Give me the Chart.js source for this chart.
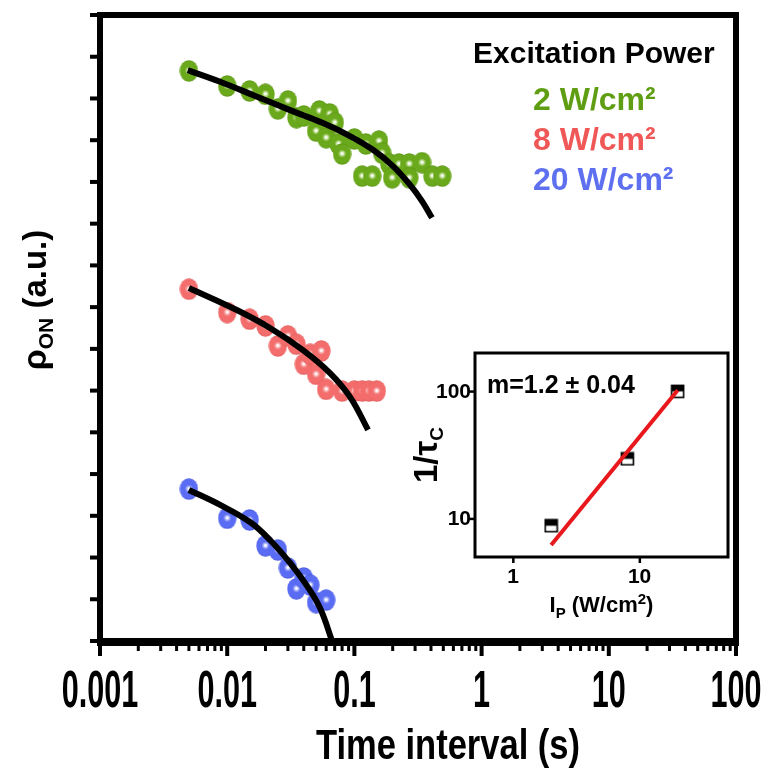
<!DOCTYPE html>
<html>
<head>
<meta charset="utf-8">
<title>rho_ON vs time interval</title>
<script src="https://cdn.jsdelivr.net/npm/chart.js@4.4.1/dist/chart.umd.min.js"></script>
<style>
    html, body { margin: 0; padding: 0; background: #fff; }
    #wrap { position: relative; width: 768px; height: 769px; }
    #mainChart { position: absolute; left: 0; top: 0; width: 768px; height: 769px; }
    #insetChart { position: absolute; left: 390px; top: 340px; width: 350px; height: 290px; }
</style>
</head>
<body>
<div id="wrap">
    <canvas id="mainChart" width="768" height="769"></canvas>
    <canvas id="insetChart" width="350" height="290"></canvas>
</div>
<script>
// Données : temps (s) et rho_ON (u.a.)
const greenTime = [0.005, 0.010, 0.015, 0.020, 0.025, 0.030, 0.035, 0.040, 0.050, 0.053, 0.060, 0.064, 0.070, 0.075, 0.080, 0.100, 0.115, 0.123, 0.138, 0.156, 0.165, 0.188, 0.198, 0.224, 0.27, 0.27, 0.34, 0.41, 0.49];
const greenRho = [13.66, 13.30, 13.18, 13.10, 12.75, 12.94, 12.54, 12.58, 12.22, 12.70, 12.06, 12.63, 12.42, 11.91, 11.67, 12.03, 11.14, 11.91, 11.14, 11.98, 11.69, 11.43, 11.10, 11.43, 11.43, 11.10, 11.46, 11.14, 11.14];

const redTime = [0.005, 0.010, 0.015, 0.020, 0.025, 0.030, 0.035, 0.040, 0.045, 0.050, 0.055, 0.060, 0.080, 0.100, 0.115, 0.130, 0.150];
const redRho = [8.43, 7.87, 7.71, 7.55, 7.07, 7.31, 7.11, 6.63, 6.87, 6.39, 6.95, 6.03, 5.99, 5.99, 5.99, 5.99, 5.99];

const blueTime = [0.005, 0.010, 0.015, 0.020, 0.025, 0.030, 0.035, 0.040, 0.045, 0.050, 0.060];
const blueRho = [3.64, 2.94, 2.90, 2.28, 2.18, 1.75, 1.25, 1.51, 1.34, 0.92, 0.98];

const greenFitTime = [0.0049, 0.0088, 0.0166, 0.0312, 0.0566, 0.0923, 0.140, 0.201, 0.274, 0.340, 0.4075];
const greenFitRho = [13.68, 13.40, 13.06, 12.72, 12.41, 12.10, 11.77, 11.38, 10.93, 10.54, 10.14];
const redFitTime = [0.005, 0.0119, 0.0217, 0.0394, 0.0643, 0.0923, 0.128];
const redFitRho = [8.46, 7.93, 7.50, 6.97, 6.42, 5.85, 5.06];
const blueFitTime = [0.005, 0.0088, 0.0151, 0.0217, 0.0312, 0.0424, 0.0537, 0.0667, 0.069];
const blueFitRho = [3.62, 3.26, 2.85, 2.42, 1.87, 1.32, 0.79, 0.0, -0.15];

// Encart : 1/tau_c en fonction de la puissance
const insetPower = [2, 8, 20];
const insetRate = [8.8, 29.5, 100];
const insetFitPower = [2, 20];
const insetFitRate = [6.2, 102];

// Graduations
const xTickValues = [0.001, 0.01, 0.1, 1, 10, 100];
const xTickLabels = ['0.001', '0.01', '0.1', '1', '10', '100'];
const yTickValues = [0, 1, 2, 3, 4, 5, 6, 7, 8, 9, 10, 11, 12, 13, 14, 15];
const insetXTicks = [1, 10];
const insetXLabels = ['1', '10'];
const insetYTicks = [10, 100];
const insetYLabels = ['10', '100'];

const powerLabels = ['2 W/cm²', '8 W/cm²', '20 W/cm²'];
const powerColors = ['#5f9e12', '#f05858', '#5e6ff0'];

const FONT = '"Liberation Sans", Arial, sans-serif';
const NARROW = '"Liberation Sans Narrow", "Liberation Sans", Arial, sans-serif';

function toPoints(xs, ys) {
    return xs.map((v, i) => ({ x: v, y: ys[i] }));
}

// Bille avec reflet pour les marqueurs
function makeBall(base, light, dark) {
    const c = document.createElement('canvas');
    c.width = 19;
    c.height = 22;
    const g = c.getContext('2d');
    const grad = g.createRadialGradient(9.5, 10.5, 0.1, 9.5, 11, 10.5);
    grad.addColorStop(0, '#ffffff');
    grad.addColorStop(0.07, '#ffffff');
    grad.addColorStop(0.2, light);
    grad.addColorStop(0.38, base);
    grad.addColorStop(0.85, base);
    grad.addColorStop(1, dark);
    g.fillStyle = grad;
    g.beginPath();
    g.ellipse(9.5, 11, 9.2, 10.8, 0, 0, Math.PI * 2);
    g.fill();
    return c;
}

// Carré à moitié rempli pour l'encart
function makeHalfSquare() {
    const c = document.createElement('canvas');
    c.width = 15;
    c.height = 15;
    const g = c.getContext('2d');
    g.fillStyle = '#fff';
    g.fillRect(1, 1, 13, 13);
    g.fillStyle = '#000';
    g.fillRect(1, 1, 13, 6.5);
    g.strokeStyle = '#000';
    g.lineWidth = 1.6;
    g.strokeRect(1.5, 1.5, 12, 12);
    return c;
}

// Texte avec indices / exposants
function richWidth(ctx, parts) {
    let w = 0;
    parts.forEach(p => {
        ctx.font = `bold ${p.s}px ${FONT}`;
        w += ctx.measureText(p.t).width;
    });
    return w;
}

function drawRich(ctx, parts, x, y, align) {
    let cx = x;
    const w = richWidth(ctx, parts);
    if (align === 'center') cx = x - w / 2;
    if (align === 'right') cx = x - w;
    ctx.textAlign = 'left';
    ctx.textBaseline = 'alphabetic';
    parts.forEach(p => {
        ctx.font = `bold ${p.s}px ${FONT}`;
        ctx.fillText(p.t, cx, y + (p.dy || 0));
        cx += ctx.measureText(p.t).width;
    });
}

// Police condensée pour les valeurs de l'axe x
function drawCondensed(ctx, text, x, y, size, digitWidth) {
    ctx.save();
    ctx.font = `bold ${size}px ${NARROW}`;
    const sx = digitWidth / ctx.measureText('0').width;
    ctx.translate(x, y);
    ctx.scale(sx, 1);
    ctx.textAlign = 'center';
    ctx.textBaseline = 'alphabetic';
    ctx.fillText(text, 0, 0);
    ctx.restore();
}

// Cadre, graduations et textes du graphique principal
const mainDecor = {
    id: 'mainDecor',
    afterDraw(chart) {
        const { ctx, chartArea: a, scales: { x, y } } = chart;
        ctx.save();
        ctx.fillStyle = '#000';
        ctx.strokeStyle = '#000';

        // graduations y (vers l'extérieur)
        yTickValues.forEach(v => {
            const py = y.getPixelForValue(v);
            ctx.fillRect(a.left - 10, py - 2, 8, 4);
        });

        // graduations x majeures et mineures
        xTickValues.forEach((d, i) => {
            const px = x.getPixelForValue(d);
            ctx.fillRect(px - 2, a.bottom, 4, 15);
            if (i < xTickValues.length - 1) {
                for (let m = 2; m <= 9; m++) {
                    const pm = x.getPixelForValue(d * m);
                    ctx.fillRect(pm - 1.5, a.bottom, 3, 10);
                }
            }
        });

        // cadre épais
        ctx.lineWidth = 6;
        ctx.strokeRect(a.left, a.top, a.right - a.left, a.bottom - a.top);
        ctx.fillRect(a.left - 3, a.bottom - 3, a.right - a.left + 6, 8);

        // valeurs de l'axe x
        xTickValues.forEach((d, i) => {
            drawCondensed(ctx, xTickLabels[i], x.getPixelForValue(d), 707, 52, 17);
        });

        // titre de l'axe x
        drawCondensed(ctx, 'Time interval (s)', 448, 759, 42, 19.2);

        // titre de l'axe y
        ctx.save();
        ctx.translate(46, 300);
        ctx.rotate(-Math.PI / 2);
        drawRich(ctx, [{ t: 'ρ', s: 34 }, { t: 'ON', s: 21, dy: 7 }, { t: ' (a.u.)', s: 33 }], 0, 0, 'center');
        ctx.restore();

        // légende
        ctx.textAlign = 'left';
        ctx.textBaseline = 'alphabetic';
        ctx.font = `bold 30px ${FONT}`;
        ctx.fillStyle = '#000';
        ctx.fillText('Excitation Power', 473, 63);
        ctx.font = `bold 32px ${FONT}`;
        powerLabels.forEach((lbl, i) => {
            ctx.fillStyle = powerColors[i];
            ctx.fillText(lbl, 533, 110 + i * 40);
        });
        ctx.restore();
    }
};

const greenBall = makeBall('#6aa91c', '#b8db8a', '#5c9614');
const redBall = makeBall('#f46d6d', '#f9b0b0', '#e45e5e');
const blueBall = makeBall('#5a6cf3', '#a9b3fa', '#4c5de2');

const fitStyle = {
    showLine: true,
    borderColor: '#000',
    borderWidth: 6,
    pointRadius: 0,
    tension: 0.4,
    fill: false,
    order: 0
};

const mainCtx = document.getElementById('mainChart').getContext('2d');
const mainChart = new Chart(mainCtx, {
    type: 'scatter',
    data: {
        datasets: [
            Object.assign({ data: toPoints(greenFitTime, greenFitRho) }, fitStyle),
            Object.assign({ data: toPoints(redFitTime, redFitRho) }, fitStyle),
            Object.assign({ data: toPoints(blueFitTime, blueFitRho) }, fitStyle),
            { data: toPoints(greenTime, greenRho), pointStyle: greenBall, order: 1 },
            { data: toPoints(redTime, redRho), pointStyle: redBall, order: 1 },
            { data: toPoints(blueTime, blueRho), pointStyle: blueBall, order: 1 }
        ]
    },
    options: {
        responsive: false,
        animation: false,
        layout: { padding: { top: 15, right: 32, left: 0, bottom: 0 } },
        plugins: {
            legend: { display: false },
            tooltip: { enabled: false }
        },
        scales: {
            x: {
                type: 'logarithmic',
                min: 0.001,
                max: 100,
                grid: { display: false },
                border: { display: false },
                ticks: { display: false },
                afterFit: s => { s.height = 128; }
            },
            y: {
                min: 0,
                max: 15,
                grid: { display: false },
                border: { display: false },
                ticks: { display: false },
                afterFit: s => { s.width = 100; }
            }
        }
    },
    plugins: [mainDecor]
});

// Encart log-log
const insetDecor = {
    id: 'insetDecor',
    beforeDatasetsDraw(chart) {
        const { ctx, chartArea: a } = chart;
        ctx.save();
        ctx.fillStyle = '#fff';
        ctx.fillRect(a.left, a.top, a.right - a.left, a.bottom - a.top);
        ctx.restore();
    },
    afterDraw(chart) {
        const { ctx, chartArea: a, scales: { x, y } } = chart;
        ctx.save();
        ctx.fillStyle = '#000';
        ctx.strokeStyle = '#000';
        ctx.lineWidth = 3;
        ctx.strokeRect(a.left, a.top, a.right - a.left, a.bottom - a.top);

        ctx.font = `bold 21px ${FONT}`;
        insetYTicks.forEach((v, i) => {
            const py = y.getPixelForValue(v);
            ctx.fillRect(a.left - 6, py - 1, 5, 2.5);
            ctx.textAlign = 'right';
            ctx.textBaseline = 'middle';
            ctx.fillText(insetYLabels[i], a.left - 4, py + 1);
        });
        insetXTicks.forEach((v, i) => {
            const px = x.getPixelForValue(v);
            ctx.fillRect(px - 1, a.bottom + 1, 2.5, 5);
            ctx.textAlign = 'center';
            ctx.textBaseline = 'alphabetic';
            ctx.fillText(insetXLabels[i], px, a.bottom + 26);
        });

        // pente
        ctx.textAlign = 'left';
        ctx.font = `bold 25px ${FONT}`;
        ctx.fillText('m=1.2 ± 0.04', a.left + 12, a.top + 40);

        // titre x
        drawRich(ctx, [{ t: 'I', s: 22 }, { t: 'P', s: 15, dy: 6 }, { t: ' (W/cm', s: 22 }, { t: '2', s: 15, dy: -8 }, { t: ')', s: 22 }],
            (a.left + a.right) / 2, a.bottom + 55, 'center');

        // titre y
        ctx.save();
        ctx.translate(a.left - 38, (a.top + a.bottom) / 2);
        ctx.rotate(-Math.PI / 2);
        drawRich(ctx, [{ t: '1/τ', s: 33 }, { t: 'C', s: 19, dy: 6 }], 0, 0, 'center');
        ctx.restore();
        ctx.restore();
    }
};

const insetCtx = document.getElementById('insetChart').getContext('2d');
const insetChart = new Chart(insetCtx, {
    type: 'scatter',
    data: {
        datasets: [
            {
                data: toPoints(insetFitPower, insetFitRate),
                showLine: true,
                borderColor: '#e8181c',
                borderWidth: 4,
                pointRadius: 0,
                order: 0
            },
            {
                data: toPoints(insetPower, insetRate),
                pointStyle: makeHalfSquare(),
                order: 1
            }
        ]
    },
    options: {
        responsive: false,
        animation: false,
        layout: { padding: { top: 13, right: 12, left: 0, bottom: 0 } },
        plugins: {
            legend: { display: false },
            tooltip: { enabled: false }
        },
        scales: {
            x: {
                type: 'logarithmic',
                min: 0.5,
                max: 50,
                grid: { display: false },
                border: { display: false },
                ticks: { display: false },
                afterFit: s => { s.height = 73; }
            },
            y: {
                type: 'logarithmic',
                min: 5,
                max: 200,
                grid: { display: false },
                border: { display: false },
                ticks: { display: false },
                afterFit: s => { s.width = 85; }
            }
        }
    },
    plugins: [insetDecor]
});
</script>
</body>
</html>
